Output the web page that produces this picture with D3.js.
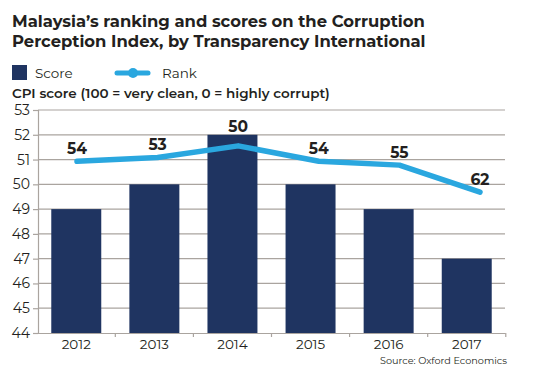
<!DOCTYPE html>
<html><head><meta charset="utf-8">
<script src="https://cdn.jsdelivr.net/npm/d3@7"></script>
<style>
body{margin:0;background:#fff;}
svg{display:block;font-family:"Montserrat","Open Sans",sans-serif;}
</style></head>
<body><svg id="chart" width="538" height="380"></svg>
<script>
const years = ["2012","2013","2014","2015","2016","2017"];
const scores = [49, 50, 52, 50, 49, 47];
const ranks = [54, 53, 50, 54, 55, 62];
const yTicks = [44,45,46,47,48,49,50,51,52,53];

(function(){
const svg = d3.select("#chart");
const pL = 38, pR = 505, pT = 110, pB = 333;
const ink = "#231f20";
const ff = "Montserrat, 'Open Sans', sans-serif";

const x = d3.scaleBand().domain(years).range([pL, pR]).paddingInner(0.36).paddingOuter(0.17);
const xLine = d3.scalePoint().domain(years).range([77, 480]);
const y = d3.scaleLinear().domain([44, 53]).range([pB, pT]);
const y2 = d3.scaleLinear().domain([40.7, 98.55]).range([pT, pB]);

// title
svg.append("text").attr("x", 12).attr("y", 27).attr("font-size", 16.4).attr("font-weight", 700).attr("fill", ink)
  .text("Malaysia’s ranking and scores on the Corruption");
svg.append("text").attr("x", 12).attr("y", 47).attr("font-size", 16.4).attr("font-weight", 700).attr("fill", ink)
  .text("Perception Index, by Transparency International");

// legend
svg.append("rect").attr("x", 12).attr("y", 65).attr("width", 15).attr("height", 15).attr("fill", "#1f3461");
svg.append("text").attr("x", 35).attr("y", 78).attr("font-size", 13.5).attr("fill", ink).text("Score");
svg.append("line").attr("x1", 117).attr("x2", 148).attr("y1", 73).attr("y2", 73)
  .attr("stroke", "#2aa7df").attr("stroke-width", 5).attr("stroke-linecap", "round");
svg.append("circle").attr("cx", 133).attr("cy", 73).attr("r", 5).attr("fill", "#2aa7df");
svg.append("text").attr("x", 162).attr("y", 78).attr("font-size", 13.5).attr("fill", ink).text("Rank");

svg.append("text").attr("x", 12).attr("y", 98).attr("font-size", 13.5).attr("font-weight", 600).attr("fill", ink)
  .text("CPI score (100 = very clean, 0 = highly corrupt)");

// gridlines
svg.append("g").selectAll("line").data(yTicks.filter(d => d > 44)).join("line")
  .attr("x1", pL).attr("x2", pR).attr("y1", d => y(d)).attr("y2", d => y(d))
  .attr("stroke", "#aaa49f").attr("stroke-width", 1.2);

// bars
svg.append("g").selectAll("rect").data(scores).join("rect")
  .attr("x", (d, i) => x(years[i])).attr("width", x.bandwidth())
  .attr("y", d => y(d)).attr("height", d => y(44) - y(d))
  .attr("fill", "#1f3461");

// y axis
const yAxis = svg.append("g").attr("transform", `translate(${pL},0)`)
  .call(d3.axisLeft(y).tickValues(yTicks).tickSize(5).tickPadding(3).tickFormat(d3.format("d")));
yAxis.select(".domain").attr("stroke", "#aaa49f").attr("stroke-width", 1.2);
yAxis.selectAll(".tick line").attr("stroke", "#aaa49f").attr("stroke-width", 1.2);
yAxis.selectAll("text").attr("font-size", 14).attr("fill", ink).attr("font-family", ff);

// x axis
const xAxis = svg.append("g").attr("transform", `translate(0,${pB})`)
  .call(d3.axisBottom(x).tickSize(0).tickPadding(6));
xAxis.select(".domain").attr("stroke", "#aaa49f").attr("stroke-width", 1.2);
xAxis.selectAll("text").attr("font-size", 13.5).attr("fill", ink).attr("font-family", ff);
const step = x.step();
svg.append("g").selectAll("line").data(years).join("line")
  .attr("x1", d => x(d) + x.bandwidth() / 2 + step / 2).attr("x2", d => x(d) + x.bandwidth() / 2 + step / 2)
  .attr("y1", pB).attr("y2", pB + 4).attr("stroke", "#aaa49f").attr("stroke-width", 1.2);

// rank line
const cx = (d, i) => xLine(years[i]);
const line = d3.line().x(cx).y(d => y2(d));
svg.append("path").datum(ranks).attr("d", line).attr("fill", "none")
  .attr("stroke", "#2aa7df").attr("stroke-width", 5.5).attr("stroke-linejoin", "round").attr("stroke-linecap", "round");
svg.append("g").selectAll("text").data(ranks).join("text")
  .attr("x", cx).attr("y", (d, i) => Math.min(y2(d) - 7, y(scores[i]) - 2.5)).attr("text-anchor", "middle")
  .attr("font-size", 15.5).attr("font-weight", 700).attr("fill", ink).text(d => d);

// source
svg.append("text").attr("x", 507).attr("y", 364).attr("text-anchor", "end").attr("font-size", 9.7).attr("fill", ink)
  .text("Source: Oxford Economics");
})();
</script></body></html>
